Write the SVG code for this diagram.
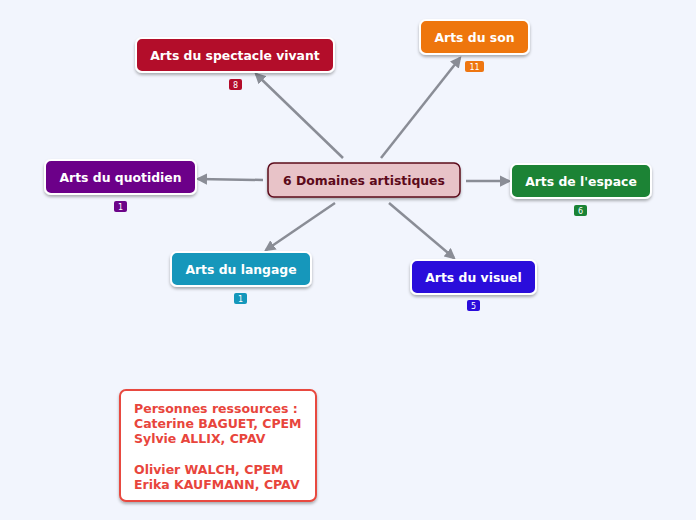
<svg xmlns="http://www.w3.org/2000/svg" width="696" height="520" viewBox="0 0 696 520">
<defs>
<filter id="sh" x="-10%" y="-20%" width="120%" height="150%">
<feDropShadow dx="0" dy="2" stdDeviation="1.5" flood-color="#000" flood-opacity="0.3"/>
</filter>
<marker id="ar" viewBox="0 0 10 10" refX="8" refY="5" markerWidth="4.5" markerHeight="4.5" orient="auto" markerUnits="strokeWidth">
<path d="M0,0 L10,5 L0,10 z" fill="#8a8d96"/>
</marker>
<style>
.n{stroke:#fff;stroke-width:2;filter:url(#sh)}
.t{font-family:"DejaVu Sans",sans-serif;font-weight:bold;font-size:12.4px;fill:#fff;text-anchor:middle}
.b{font-family:"DejaVu Sans",sans-serif;font-size:8px;fill:#fff;text-anchor:middle}
.c{stroke:#8a8d96;stroke-width:2.5;fill:none;marker-end:url(#ar)}
.nt{font-family:"DejaVu Sans",sans-serif;font-weight:bold;font-size:12.5px;fill:#e8453c}
</style>
</defs>
<rect width="696" height="520" fill="#f2f5fd"/>
<g id="connectors">
<line class="c" x1="343" y1="158" x2="256" y2="74"/>
<line class="c" x1="381" y1="158" x2="460" y2="58"/>
<line class="c" x1="263" y1="180" x2="198" y2="179"/>
<line class="c" x1="466" y1="181" x2="509" y2="181"/>
<line class="c" x1="335" y1="203" x2="266" y2="250"/>
<line class="c" x1="389" y1="203" x2="454" y2="258"/>
</g>
<g id="center">
<rect x="268" y="163" width="192" height="34" rx="6" fill="#e8c3c8" stroke="#5c0a1a" stroke-width="1.5" filter="url(#sh)"/>
<text class="t" x="364" y="185" style="fill:#5c0a1a">6 Domaines artistiques</text>
</g>
<g id="spectacle">
<rect class="n" x="136" y="38" width="198" height="34" rx="6" fill="#b30b2a"/>
<text class="t" x="235" y="60">Arts du spectacle vivant</text>
<rect x="229" y="79" width="13" height="11" rx="2" fill="#b30b2a"/>
<text class="b" x="235.5" y="87.5">8</text>
</g>
<g id="son">
<rect class="n" x="420" y="20" width="109" height="34" rx="6" fill="#ee7611"/>
<text class="t" x="474.5" y="42">Arts du son</text>
<rect x="465" y="61" width="19" height="11" rx="2" fill="#ee7611"/>
<text class="b" x="474.5" y="69.5">11</text>
</g>
<g id="quotidien">
<rect class="n" x="45" y="160" width="151" height="34" rx="6" fill="#6c0489"/>
<text class="t" x="120.5" y="182">Arts du quotidien</text>
<rect x="114" y="201" width="13" height="11" rx="2" fill="#6c0489"/>
<text class="b" x="120.5" y="209.5">1</text>
</g>
<g id="espace">
<rect class="n" x="511" y="164" width="140" height="34" rx="6" fill="#1a8335"/>
<text class="t" x="581" y="186">Arts de l'espace</text>
<rect x="574" y="205" width="13" height="11" rx="2" fill="#1a8335"/>
<text class="b" x="580.5" y="213.5">6</text>
</g>
<g id="langage">
<rect class="n" x="171" y="252" width="140" height="34" rx="6" fill="#1497bb"/>
<text class="t" x="241" y="274">Arts du langage</text>
<rect x="234" y="293" width="13" height="11" rx="2" fill="#1497bb"/>
<text class="b" x="240.5" y="301.5">1</text>
</g>
<g id="visuel">
<rect class="n" x="411" y="260" width="125" height="34" rx="6" fill="#2b0ddb"/>
<text class="t" x="473.5" y="282">Arts du visuel</text>
<rect x="467" y="300" width="13" height="11" rx="2" fill="#2b0ddb"/>
<text class="b" x="473.5" y="308.5">5</text>
</g>
<g id="notes">
<rect x="120" y="390" width="196" height="111" rx="6" fill="#fff" stroke="#e84a3f" stroke-width="2" filter="url(#sh)"/>
<text class="nt" x="134" y="413">Personnes ressources :</text>
<text class="nt" x="134" y="428">Caterine BAGUET, CPEM</text>
<text class="nt" x="134" y="443">Sylvie ALLIX, CPAV</text>
<text class="nt" x="134" y="474">Olivier WALCH, CPEM</text>
<text class="nt" x="134" y="489">Erika KAUFMANN, CPAV</text>
</g>
</svg>
